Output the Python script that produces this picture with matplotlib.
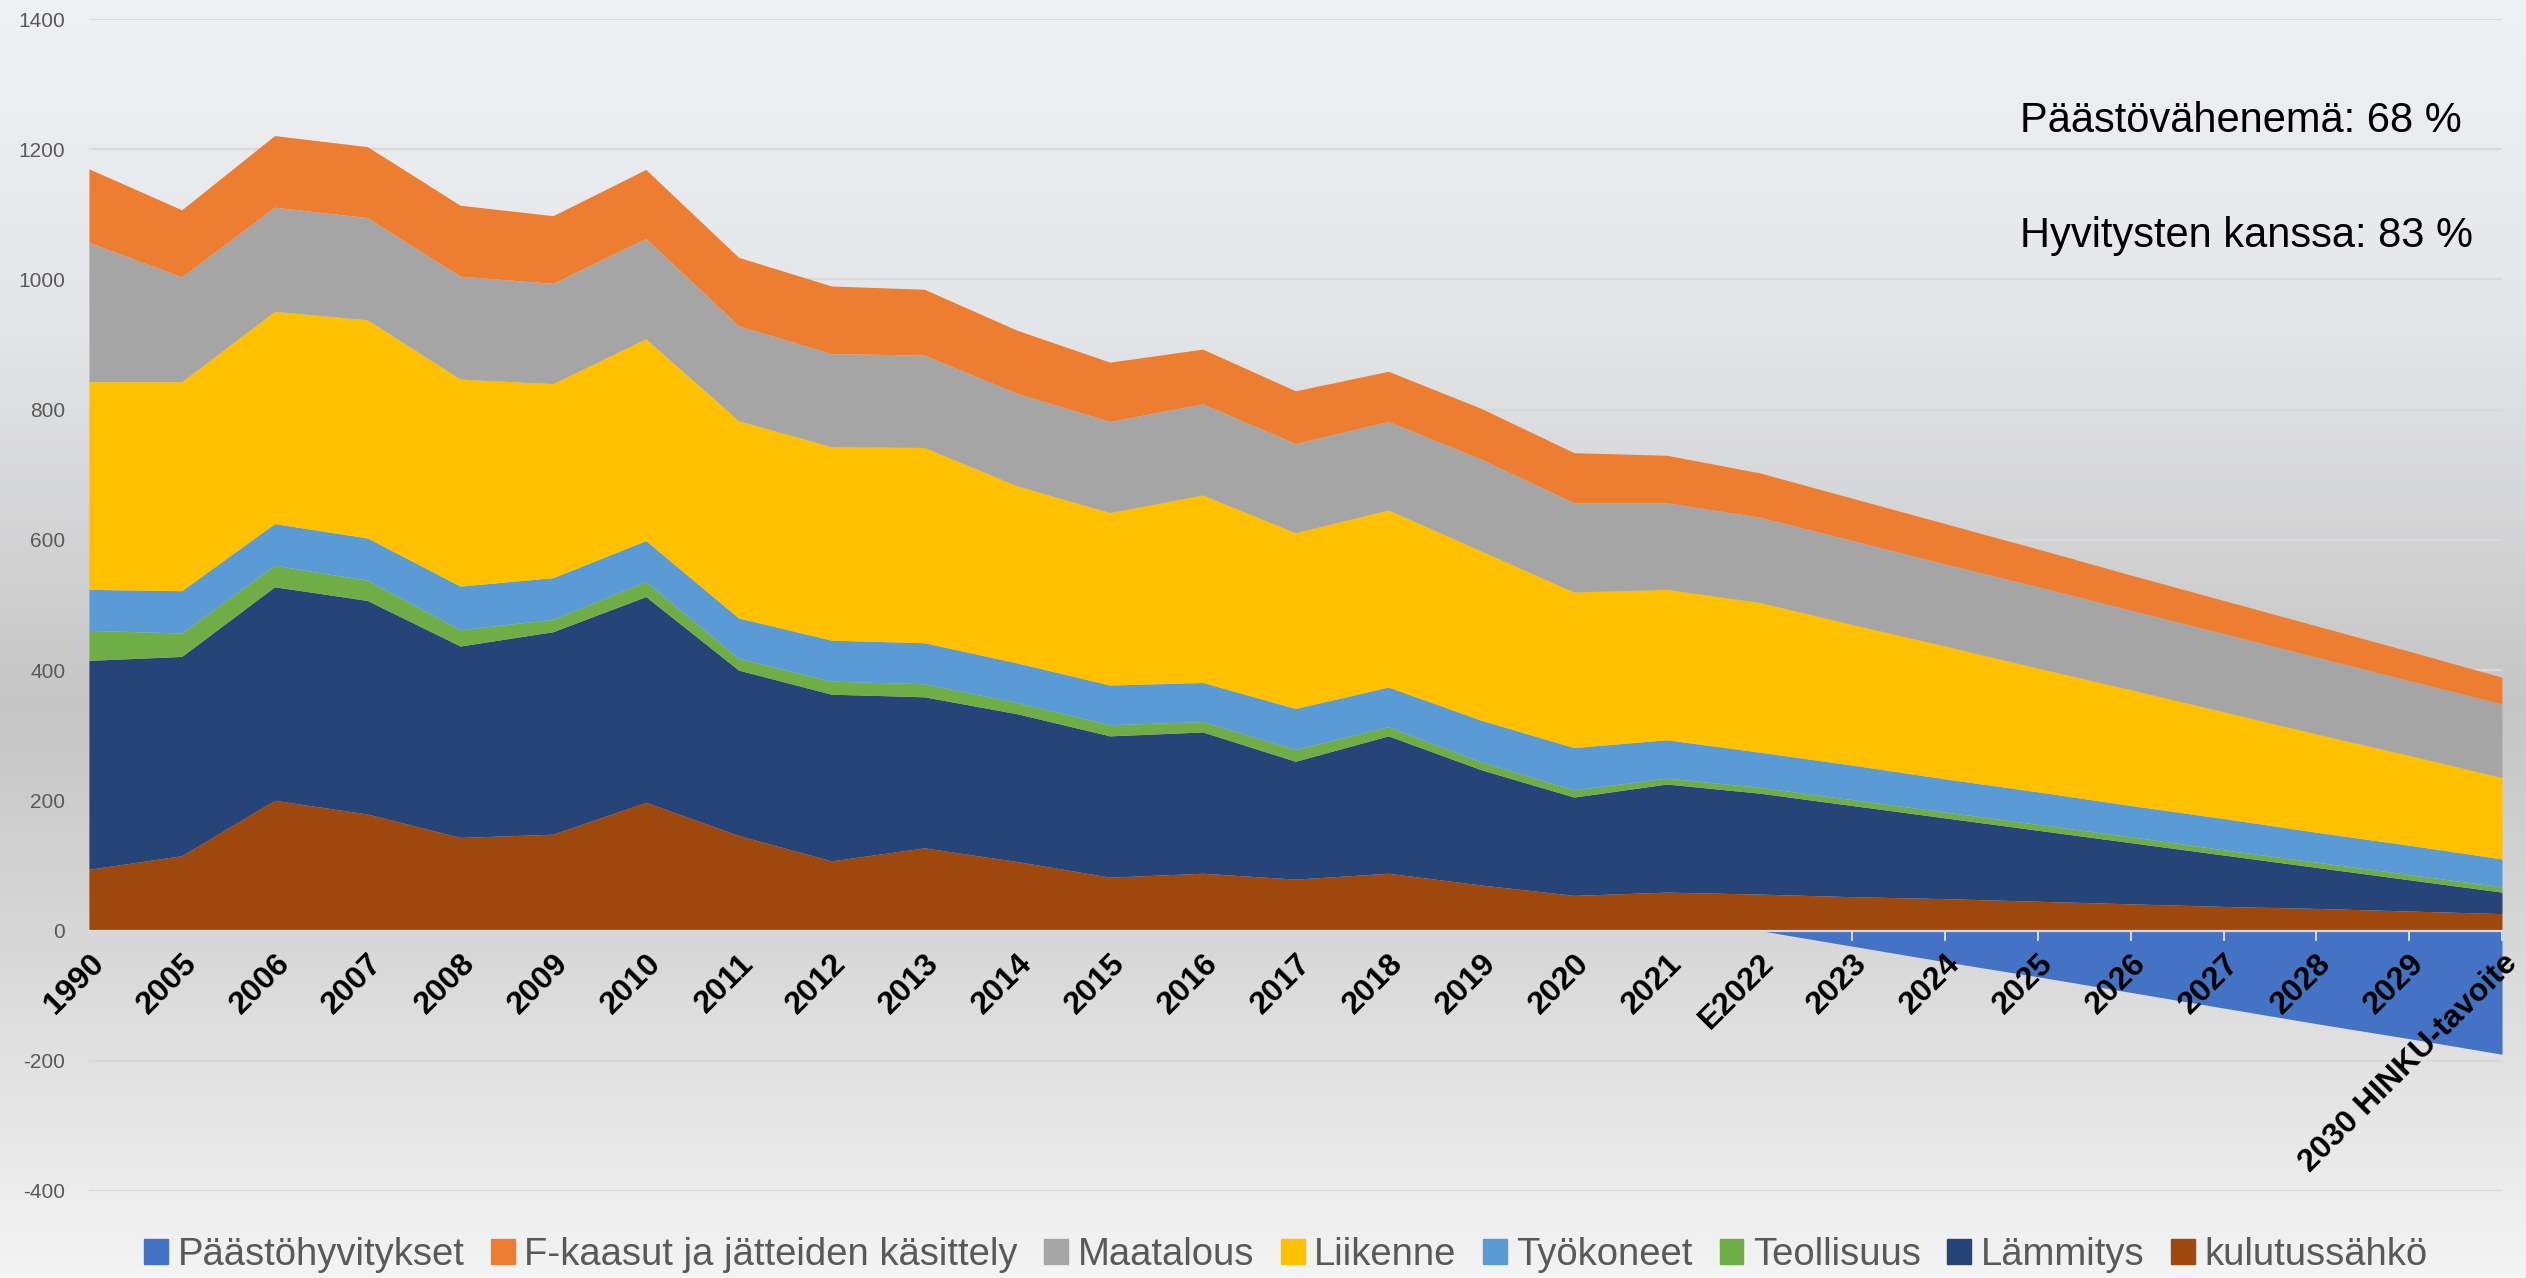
import numpy as np
import matplotlib
matplotlib.use("Agg")
import matplotlib.pyplot as plt
from matplotlib.colors import LinearSegmentedColormap
from matplotlib.patches import Patch

plt.rcParams["font.family"] = ["Liberation Sans", "DejaVu Sans"]
plt.rcParams["axes.unicode_minus"] = False

years = ["1990", "2005", "2006", "2007", "2008", "2009", "2010", "2011", "2012",
         "2013", "2014", "2015", "2016", "2017", "2018", "2019", "2020", "2021",
         "E2022", "2023", "2024", "2025", "2026", "2027", "2028", "2029",
         "2030 HINKU-tavoite"]

kulutussahko = [94, 115, 200, 179, 143, 148, 197, 146, 107, 127, 106, 82, 88, 79,
                88, 70, 54, 59, 56, 52, 49, 45, 41, 37, 34, 30, 26]
lammitys = [321, 306, 328, 328, 294, 311, 316, 254, 256, 232, 227, 217, 217, 181,
            211, 177, 151, 166, 155, 140, 124, 109, 94, 79, 63, 48, 33]
teollisuus = [46, 36, 33, 31, 25, 19, 23, 18, 20, 20, 17, 17, 16, 18,
              14, 12, 11, 9, 9, 9, 9, 9, 9, 8, 8, 8, 8]
tyokoneet = [63, 65, 64, 65, 67, 64, 63, 62, 63, 63, 61, 61, 60, 63,
             61, 64, 65, 59, 54, 53, 51, 50, 48, 48, 46, 45, 43]
liikenne = [319, 321, 326, 335, 318, 298, 310, 303, 297, 300, 272, 265, 288, 270,
            272, 260, 239, 231, 230, 216, 204, 190, 178, 164, 151, 138, 125]
maatalous = [214, 161, 160, 157, 158, 154, 154, 146, 143, 142, 142, 140, 140, 137,
             136, 141, 137, 133, 131, 129, 126, 125, 122, 120, 118, 115, 113]
fkaasut = [113, 103, 110, 109, 109, 104, 106, 105, 104, 101, 97, 91, 84, 81,
           77, 78, 77, 73, 68, 65, 62, 58, 54, 51, 48, 45, 41]
hyvitykset = [0, 0, 0, 0, 0, 0, 0, 0, 0, 0, 0, 0, 0, 0,
              0, 0, 0, 0, 0, -24, -48, -71, -95, -119, -143, -166, -190]

names = ["kulutussähkö", "Lämmitys", "Teollisuus", "Työkoneet", "Liikenne",
         "Maatalous", "F-kaasut ja jätteiden käsittely"]
colors = ["#9E480E", "#264478", "#70AD47", "#5B9BD5", "#FFC000", "#A5A5A5", "#ED7D31"]
hyv_color = "#4472C4"

fig = plt.figure(figsize=(25.26, 12.78), dpi=100)

# chart-area gradient background
bg = fig.add_axes([0, 0, 1, 1], zorder=-10)
cmap = LinearSegmentedColormap.from_list(
    "bg",
    [(0.0, (0.94, 0.945, 0.96)), (0.25, (0.895, 0.9, 0.91)),
     (0.55, (0.775, 0.775, 0.775)), (0.75, (0.85, 0.85, 0.85)),
     (1.0, (0.955, 0.955, 0.955))])
bg.imshow(np.linspace(0, 1, 256).reshape(-1, 1), aspect="auto", cmap=cmap,
          extent=[0, 1, 0, 1])
bg.axis("off")

ax = fig.add_axes([0.0352, 0.0681, 0.9553, 0.917])
ax.set_facecolor("none")

ax.set_xlim(0, len(years) - 1)
ax.set_ylim(-400, 1400)
yticks = list(range(-400, 1401, 200))
ax.set_yticks(yticks)
for yv in yticks:
    if yv != 0:
        ax.axhline(yv, color="#D9D9D9", lw=1.6, zorder=0.2)

x = np.arange(len(years))
layers = np.array([kulutussahko, lammitys, teollisuus, tyokoneet, liikenne,
                   maatalous, fkaasut], dtype=float)
tops = np.cumsum(layers, axis=0)
bottom = np.zeros(len(years))
for top, c in zip(tops, colors):
    ax.fill_between(x, bottom, top, color=c, lw=0, zorder=1)
    bottom = top
ax.fill_between(x, 0, hyvitykset, color=hyv_color, lw=0, zorder=1)

ax.set_axisbelow(False)
for s in ["top", "left", "right"]:
    ax.spines[s].set_visible(False)
ax.spines["bottom"].set_position(("data", 0))
ax.spines["bottom"].set_color("#D9D9D9")
ax.spines["bottom"].set_linewidth(1.6)
ax.spines["bottom"].set_zorder(5)

ax.set_xticks(x)
ax.set_xticklabels(years, rotation=45, ha="right", rotation_mode="anchor",
                   fontsize=23, fontweight="bold", color="black")
ax.tick_params(axis="x", direction="out", length=7, width=1.4, color="#D9D9D9", pad=6)
ax.tick_params(axis="y", length=0, pad=17, labelsize=15, labelcolor="#595959")

fig.text(0.7997, 0.8967, "Päästövähenemä: 68 %", fontsize=30, color="black",
         va="baseline", ha="left")
fig.text(0.7997, 0.8067, "Hyvitysten kanssa: 83 %", fontsize=30, color="black",
         va="baseline", ha="left")

handles = [Patch(color=hyv_color, label="Päästöhyvitykset")]
for n, c in zip(names[::-1], colors[::-1]):
    handles.append(Patch(color=c, label=n))
fig.legend(handles=handles, loc="center", bbox_to_anchor=(0.509, 0.018), ncol=8,
           frameon=False, fontsize=27.5, labelcolor="#595959", handlelength=0.62,
           handleheight=0.62, handletextpad=0.25, columnspacing=0.7)

fig.savefig("out.png", dpi=100)
